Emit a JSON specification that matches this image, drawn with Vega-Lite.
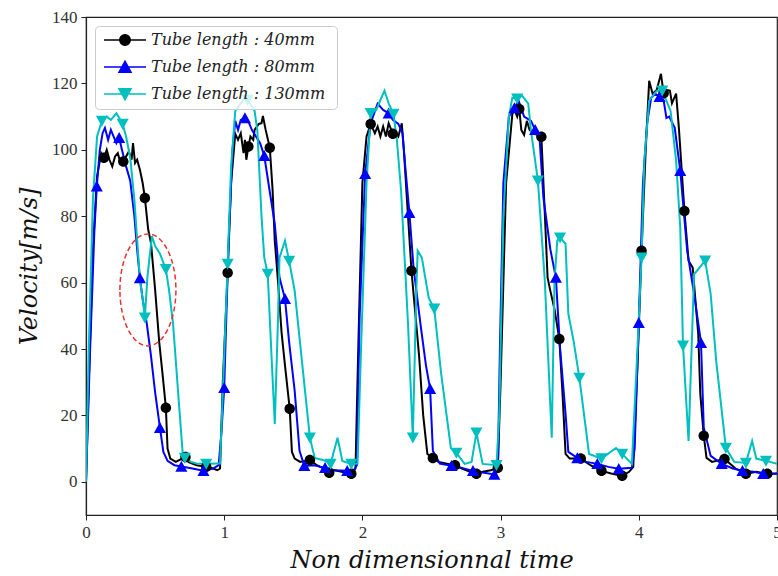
{
  "$schema": "https://vega.github.io/schema/vega-lite/v6.json",
  "width": 691,
  "height": 498,
  "autosize": {"type": "none"},
  "padding": {"left": 86, "top": 17, "right": 1, "bottom": 61},
  "background": "white",
  "config": {
    "view": {"stroke": "#222", "strokeWidth": 1.2},
    "axis": {
      "grid": false,
      "domainColor": "#222",
      "domainWidth": 1.2,
      "tickColor": "#222",
      "tickSize": 5,
      "labelFont": "Liberation Serif",
      "labelFontSize": 17,
      "labelColor": "#333",
      "labelPadding": 4,
      "titleFont": "DejaVu Serif",
      "titleFontStyle": "italic",
      "titleFontWeight": "normal",
      "titleFontSize": 24,
      "titleColor": "#111"
    }
  },
  "datasets": {
    "curves": [
      {"series":"40mm","t":0,"v":0},{"series":"40mm","t":0.02,"v":30},{"series":"40mm","t":0.05,"v":70},{"series":"40mm","t":0.08,"v":92},{"series":"40mm","t":0.11,"v":99},{"series":"40mm","t":0.13,"v":97.6},{"series":"40mm","t":0.15,"v":100},{"series":"40mm","t":0.17,"v":97},{"series":"40mm","t":0.19,"v":95},{"series":"40mm","t":0.21,"v":98},{"series":"40mm","t":0.23,"v":99},{"series":"40mm","t":0.25,"v":96},{"series":"40mm","t":0.27,"v":96.5},{"series":"40mm","t":0.29,"v":98},{"series":"40mm","t":0.31,"v":99.5},{"series":"40mm","t":0.33,"v":97},{"series":"40mm","t":0.34,"v":102},{"series":"40mm","t":0.355,"v":96},{"series":"40mm","t":0.37,"v":97},{"series":"40mm","t":0.39,"v":94},{"series":"40mm","t":0.41,"v":90},{"series":"40mm","t":0.426,"v":85.5},{"series":"40mm","t":0.45,"v":76},{"series":"40mm","t":0.47,"v":72},{"series":"40mm","t":0.5,"v":58},{"series":"40mm","t":0.53,"v":42},{"series":"40mm","t":0.555,"v":32},{"series":"40mm","t":0.578,"v":22.3},{"series":"40mm","t":0.59,"v":10},{"series":"40mm","t":0.61,"v":7},{"series":"40mm","t":0.65,"v":6},{"series":"40mm","t":0.72,"v":7.5},{"series":"40mm","t":0.74,"v":6},{"series":"40mm","t":0.8,"v":5},{"series":"40mm","t":0.87,"v":4.5},{"series":"40mm","t":0.92,"v":4},{"series":"40mm","t":0.95,"v":3.5},{"series":"40mm","t":0.97,"v":4},{"series":"40mm","t":0.99,"v":30},{"series":"40mm","t":1.025,"v":63},{"series":"40mm","t":1.05,"v":90},{"series":"40mm","t":1.08,"v":104.8},{"series":"40mm","t":1.1,"v":103},{"series":"40mm","t":1.12,"v":105},{"series":"40mm","t":1.14,"v":99},{"series":"40mm","t":1.15,"v":103},{"series":"40mm","t":1.16,"v":97},{"series":"40mm","t":1.175,"v":101},{"series":"40mm","t":1.19,"v":104},{"series":"40mm","t":1.21,"v":103},{"series":"40mm","t":1.22,"v":106},{"series":"40mm","t":1.25,"v":107.8},{"series":"40mm","t":1.27,"v":108},{"series":"40mm","t":1.28,"v":110.2},{"series":"40mm","t":1.3,"v":106},{"series":"40mm","t":1.33,"v":100.6},{"series":"40mm","t":1.35,"v":88},{"series":"40mm","t":1.366,"v":72.6},{"series":"40mm","t":1.39,"v":60},{"series":"40mm","t":1.415,"v":45},{"series":"40mm","t":1.44,"v":35},{"series":"40mm","t":1.474,"v":22},{"series":"40mm","t":1.49,"v":9},{"series":"40mm","t":1.51,"v":7},{"series":"40mm","t":1.55,"v":6},{"series":"40mm","t":1.62,"v":6.6},{"series":"40mm","t":1.67,"v":5},{"series":"40mm","t":1.72,"v":4},{"series":"40mm","t":1.76,"v":2.7},{"series":"40mm","t":1.8,"v":3.5},{"series":"40mm","t":1.85,"v":3},{"series":"40mm","t":1.92,"v":2.4},{"series":"40mm","t":1.95,"v":4},{"series":"40mm","t":1.97,"v":40},{"series":"40mm","t":2.0,"v":90},{"series":"40mm","t":2.03,"v":104},{"series":"40mm","t":2.06,"v":107.8},{"series":"40mm","t":2.09,"v":105},{"series":"40mm","t":2.11,"v":107},{"series":"40mm","t":2.13,"v":104},{"series":"40mm","t":2.15,"v":107},{"series":"40mm","t":2.17,"v":104},{"series":"40mm","t":2.19,"v":108},{"series":"40mm","t":2.22,"v":104.8},{"series":"40mm","t":2.24,"v":105},{"series":"40mm","t":2.26,"v":104},{"series":"40mm","t":2.285,"v":108},{"series":"40mm","t":2.3,"v":100},{"series":"40mm","t":2.33,"v":80},{"series":"40mm","t":2.355,"v":63.6},{"series":"40mm","t":2.38,"v":52},{"series":"40mm","t":2.41,"v":38},{"series":"40mm","t":2.44,"v":20},{"series":"40mm","t":2.47,"v":8.4},{"series":"40mm","t":2.51,"v":7.2},{"series":"40mm","t":2.55,"v":6},{"series":"40mm","t":2.62,"v":5.4},{"series":"40mm","t":2.67,"v":5},{"series":"40mm","t":2.72,"v":4},{"series":"40mm","t":2.78,"v":3},{"series":"40mm","t":2.825,"v":2.4},{"series":"40mm","t":2.87,"v":3},{"series":"40mm","t":2.93,"v":3.5},{"series":"40mm","t":2.98,"v":4.2},{"series":"40mm","t":3.0,"v":30},{"series":"40mm","t":3.04,"v":90},{"series":"40mm","t":3.085,"v":110.8},{"series":"40mm","t":3.1,"v":112},{"series":"40mm","t":3.12,"v":110},{"series":"40mm","t":3.135,"v":112.3},{"series":"40mm","t":3.15,"v":106},{"series":"40mm","t":3.17,"v":104.5},{"series":"40mm","t":3.19,"v":108.7},{"series":"40mm","t":3.21,"v":106},{"series":"40mm","t":3.24,"v":104.8},{"series":"40mm","t":3.27,"v":104.5},{"series":"40mm","t":3.295,"v":103.9},{"series":"40mm","t":3.32,"v":80.7},{"series":"40mm","t":3.34,"v":61.5},{"series":"40mm","t":3.36,"v":57.5},{"series":"40mm","t":3.39,"v":52},{"series":"40mm","t":3.425,"v":43},{"series":"40mm","t":3.45,"v":25},{"series":"40mm","t":3.47,"v":8.4},{"series":"40mm","t":3.5,"v":7},{"series":"40mm","t":3.58,"v":7},{"series":"40mm","t":3.65,"v":5},{"series":"40mm","t":3.73,"v":3.3},{"series":"40mm","t":3.8,"v":2.5},{"series":"40mm","t":3.88,"v":1.8},{"series":"40mm","t":3.93,"v":3},{"series":"40mm","t":3.96,"v":4.5},{"series":"40mm","t":3.99,"v":35},{"series":"40mm","t":4.02,"v":69.6},{"series":"40mm","t":4.05,"v":100},{"series":"40mm","t":4.075,"v":120.8},{"series":"40mm","t":4.1,"v":116.9},{"series":"40mm","t":4.13,"v":118},{"series":"40mm","t":4.16,"v":122.9},{"series":"40mm","t":4.18,"v":117},{"series":"40mm","t":4.2,"v":118},{"series":"40mm","t":4.225,"v":117.8},{"series":"40mm","t":4.24,"v":114},{"series":"40mm","t":4.27,"v":116.9},{"series":"40mm","t":4.29,"v":106.6},{"series":"40mm","t":4.33,"v":81.6},{"series":"40mm","t":4.36,"v":66.6},{"series":"40mm","t":4.39,"v":64.5},{"series":"40mm","t":4.43,"v":44.6},{"series":"40mm","t":4.445,"v":26.5},{"series":"40mm","t":4.47,"v":13.9},{"series":"40mm","t":4.49,"v":7.2},{"series":"40mm","t":4.53,"v":6},{"series":"40mm","t":4.62,"v":6.9},{"series":"40mm","t":4.7,"v":4},{"series":"40mm","t":4.775,"v":2.4},{"series":"40mm","t":4.85,"v":3},{"series":"40mm","t":4.93,"v":2.4},{"series":"40mm","t":5.0,"v":2.5},

      {"series":"80mm","t":0,"v":0},{"series":"80mm","t":0.03,"v":40},{"series":"80mm","t":0.06,"v":75},{"series":"80mm","t":0.078,"v":89},{"series":"80mm","t":0.1,"v":100},{"series":"80mm","t":0.12,"v":105},{"series":"80mm","t":0.137,"v":106.6},{"series":"80mm","t":0.16,"v":103},{"series":"80mm","t":0.18,"v":106},{"series":"80mm","t":0.2,"v":104},{"series":"80mm","t":0.22,"v":102},{"series":"80mm","t":0.24,"v":103.6},{"series":"80mm","t":0.26,"v":100},{"series":"80mm","t":0.29,"v":95},{"series":"80mm","t":0.32,"v":90.7},{"series":"80mm","t":0.35,"v":80},{"series":"80mm","t":0.37,"v":70},{"series":"80mm","t":0.39,"v":61.4},{"series":"80mm","t":0.41,"v":55},{"series":"80mm","t":0.44,"v":47.6},{"series":"80mm","t":0.47,"v":38},{"series":"80mm","t":0.5,"v":27},{"series":"80mm","t":0.535,"v":16.3},{"series":"80mm","t":0.56,"v":9},{"series":"80mm","t":0.59,"v":6.3},{"series":"80mm","t":0.64,"v":5},{"series":"80mm","t":0.69,"v":4.6},{"series":"80mm","t":0.77,"v":4},{"series":"80mm","t":0.85,"v":3.3},{"series":"80mm","t":0.92,"v":4},{"series":"80mm","t":0.96,"v":5},{"series":"80mm","t":0.98,"v":15},{"series":"80mm","t":1.0,"v":28.3},{"series":"80mm","t":1.03,"v":70},{"series":"80mm","t":1.06,"v":100},{"series":"80mm","t":1.08,"v":108.7},{"series":"80mm","t":1.1,"v":106},{"series":"80mm","t":1.12,"v":109},{"series":"80mm","t":1.15,"v":109.6},{"series":"80mm","t":1.18,"v":108},{"series":"80mm","t":1.2,"v":106},{"series":"80mm","t":1.23,"v":104},{"series":"80mm","t":1.26,"v":102},{"series":"80mm","t":1.29,"v":98.2},{"series":"80mm","t":1.32,"v":90},{"series":"80mm","t":1.366,"v":77.7},{"series":"80mm","t":1.4,"v":61.5},{"series":"80mm","t":1.44,"v":55.1},{"series":"80mm","t":1.47,"v":42},{"series":"80mm","t":1.51,"v":27.4},{"series":"80mm","t":1.545,"v":9.3},{"series":"80mm","t":1.58,"v":4.8},{"series":"80mm","t":1.65,"v":5},{"series":"80mm","t":1.73,"v":4.2},{"series":"80mm","t":1.8,"v":3.5},{"series":"80mm","t":1.89,"v":3.3},{"series":"80mm","t":1.93,"v":3},{"series":"80mm","t":1.96,"v":5},{"series":"80mm","t":1.98,"v":50},{"series":"80mm","t":2.02,"v":92.8},{"series":"80mm","t":2.06,"v":108},{"series":"80mm","t":2.11,"v":113.9},{"series":"80mm","t":2.15,"v":112},{"series":"80mm","t":2.19,"v":111},{"series":"80mm","t":2.22,"v":109},{"series":"80mm","t":2.26,"v":107.8},{"series":"80mm","t":2.29,"v":105},{"series":"80mm","t":2.31,"v":95},{"series":"80mm","t":2.34,"v":81},{"series":"80mm","t":2.37,"v":64.5},{"series":"80mm","t":2.42,"v":47.6},{"series":"80mm","t":2.46,"v":35},{"series":"80mm","t":2.49,"v":28},{"series":"80mm","t":2.51,"v":9.3},{"series":"80mm","t":2.56,"v":5.5},{"series":"80mm","t":2.645,"v":4.8},{"series":"80mm","t":2.72,"v":4.2},{"series":"80mm","t":2.8,"v":3.3},{"series":"80mm","t":2.87,"v":2.8},{"series":"80mm","t":2.955,"v":2.2},{"series":"80mm","t":2.98,"v":3},{"series":"80mm","t":2.995,"v":40},{"series":"80mm","t":3.02,"v":90},{"series":"80mm","t":3.06,"v":110},{"series":"80mm","t":3.1,"v":112.6},{"series":"80mm","t":3.13,"v":114.8},{"series":"80mm","t":3.17,"v":110},{"series":"80mm","t":3.22,"v":108.7},{"series":"80mm","t":3.25,"v":106},{"series":"80mm","t":3.28,"v":104.8},{"series":"80mm","t":3.31,"v":85.5},{"series":"80mm","t":3.36,"v":70},{"series":"80mm","t":3.4,"v":61.5},{"series":"80mm","t":3.43,"v":40.4},{"series":"80mm","t":3.47,"v":20.5},{"series":"80mm","t":3.49,"v":9},{"series":"80mm","t":3.555,"v":7.2},{"series":"80mm","t":3.62,"v":6},{"series":"80mm","t":3.7,"v":5.4},{"series":"80mm","t":3.78,"v":4.5},{"series":"80mm","t":3.855,"v":3.9},{"series":"80mm","t":3.95,"v":4.2},{"series":"80mm","t":3.97,"v":10},{"series":"80mm","t":4.0,"v":47.9},{"series":"80mm","t":4.03,"v":90},{"series":"80mm","t":4.06,"v":108},{"series":"80mm","t":4.09,"v":115.7},{"series":"80mm","t":4.12,"v":116.9},{"series":"80mm","t":4.15,"v":116},{"series":"80mm","t":4.18,"v":114.8},{"series":"80mm","t":4.2,"v":109.6},{"series":"80mm","t":4.22,"v":110},{"series":"80mm","t":4.26,"v":106.6},{"series":"80mm","t":4.3,"v":93.7},{"series":"80mm","t":4.35,"v":69.6},{"series":"80mm","t":4.4,"v":56.6},{"series":"80mm","t":4.45,"v":41.9},{"series":"80mm","t":4.47,"v":16.3},{"series":"80mm","t":4.52,"v":7.8},{"series":"80mm","t":4.6,"v":5.4},{"series":"80mm","t":4.68,"v":4},{"series":"80mm","t":4.75,"v":3.3},{"series":"80mm","t":4.83,"v":3},{"series":"80mm","t":4.9,"v":2.4},{"series":"80mm","t":5.0,"v":2.4},

      {"series":"130mm","t":0,"v":0},{"series":"130mm","t":0.02,"v":40},{"series":"130mm","t":0.05,"v":85},{"series":"130mm","t":0.08,"v":104},{"series":"130mm","t":0.115,"v":108.7},{"series":"130mm","t":0.15,"v":110},{"series":"130mm","t":0.18,"v":109},{"series":"130mm","t":0.22,"v":111},{"series":"130mm","t":0.25,"v":109},{"series":"130mm","t":0.265,"v":107.8},{"series":"130mm","t":0.29,"v":104},{"series":"130mm","t":0.32,"v":97.6},{"series":"130mm","t":0.35,"v":85},{"series":"130mm","t":0.39,"v":61},{"series":"130mm","t":0.41,"v":55},{"series":"130mm","t":0.426,"v":49.4},{"series":"130mm","t":0.445,"v":62},{"series":"130mm","t":0.477,"v":74},{"series":"130mm","t":0.5,"v":71},{"series":"130mm","t":0.535,"v":68.7},{"series":"130mm","t":0.578,"v":64},{"series":"130mm","t":0.6,"v":58},{"series":"130mm","t":0.63,"v":47.6},{"series":"130mm","t":0.67,"v":25},{"series":"130mm","t":0.7,"v":8.4},{"series":"130mm","t":0.715,"v":7.2},{"series":"130mm","t":0.76,"v":6},{"series":"130mm","t":0.8,"v":5.5},{"series":"130mm","t":0.87,"v":5.4},{"series":"130mm","t":0.95,"v":5.5},{"series":"130mm","t":0.97,"v":5.5},{"series":"130mm","t":0.99,"v":27},{"series":"130mm","t":1.025,"v":65.6},{"series":"130mm","t":1.05,"v":95},{"series":"130mm","t":1.08,"v":111.7},{"series":"130mm","t":1.12,"v":114},{"series":"130mm","t":1.15,"v":115.7},{"series":"130mm","t":1.17,"v":115},{"series":"130mm","t":1.22,"v":111.7},{"series":"130mm","t":1.24,"v":105.7},{"series":"130mm","t":1.27,"v":80},{"series":"130mm","t":1.29,"v":67.5},{"series":"130mm","t":1.315,"v":62.6},{"series":"130mm","t":1.34,"v":40},{"series":"130mm","t":1.366,"v":17.4},{"series":"130mm","t":1.39,"v":50},{"series":"130mm","t":1.4,"v":67.5},{"series":"130mm","t":1.44,"v":72.6},{"series":"130mm","t":1.47,"v":66.5},{"series":"130mm","t":1.51,"v":57.5},{"series":"130mm","t":1.56,"v":37.3},{"series":"130mm","t":1.62,"v":13.3},{"series":"130mm","t":1.655,"v":7.2},{"series":"130mm","t":1.72,"v":6.5},{"series":"130mm","t":1.77,"v":5.4},{"series":"130mm","t":1.82,"v":13.3},{"series":"130mm","t":1.855,"v":6.3},{"series":"130mm","t":1.92,"v":5.4},{"series":"130mm","t":1.965,"v":5.5},{"series":"130mm","t":1.99,"v":40},{"series":"130mm","t":2.03,"v":90},{"series":"130mm","t":2.06,"v":111},{"series":"130mm","t":2.1,"v":112},{"series":"130mm","t":2.13,"v":115},{"series":"130mm","t":2.16,"v":117.8},{"series":"130mm","t":2.19,"v":114},{"series":"130mm","t":2.225,"v":110.8},{"series":"130mm","t":2.25,"v":102.7},{"series":"130mm","t":2.28,"v":87.6},{"series":"130mm","t":2.33,"v":47.6},{"series":"130mm","t":2.365,"v":13.3},{"series":"130mm","t":2.39,"v":57.5},{"series":"130mm","t":2.4,"v":69.6},{"series":"130mm","t":2.43,"v":67.5},{"series":"130mm","t":2.48,"v":55.4},{"series":"130mm","t":2.52,"v":52.1},{"series":"130mm","t":2.57,"v":32.5},{"series":"130mm","t":2.64,"v":10.2},{"series":"130mm","t":2.68,"v":8.7},{"series":"130mm","t":2.74,"v":5.4},{"series":"130mm","t":2.79,"v":6},{"series":"130mm","t":2.825,"v":14.8},{"series":"130mm","t":2.87,"v":5.4},{"series":"130mm","t":2.97,"v":5},{"series":"130mm","t":2.99,"v":20},{"series":"130mm","t":3.02,"v":80},{"series":"130mm","t":3.06,"v":110},{"series":"130mm","t":3.085,"v":115.7},{"series":"130mm","t":3.12,"v":115.4},{"series":"130mm","t":3.155,"v":116.3},{"series":"130mm","t":3.2,"v":113.9},{"series":"130mm","t":3.22,"v":105.7},{"series":"130mm","t":3.27,"v":90.7},{"series":"130mm","t":3.32,"v":60.5},{"series":"130mm","t":3.37,"v":13.3},{"series":"130mm","t":3.39,"v":60.5},{"series":"130mm","t":3.41,"v":72.6},{"series":"130mm","t":3.43,"v":73.5},{"series":"130mm","t":3.47,"v":71.7},{"series":"130mm","t":3.49,"v":50.6},{"series":"130mm","t":3.53,"v":42},{"series":"130mm","t":3.57,"v":31.3},{"series":"130mm","t":3.64,"v":8.4},{"series":"130mm","t":3.73,"v":7},{"series":"130mm","t":3.835,"v":10.2},{"series":"130mm","t":3.88,"v":8.4},{"series":"130mm","t":3.95,"v":5.4},{"series":"130mm","t":3.99,"v":40},{"series":"130mm","t":4.02,"v":67.5},{"series":"130mm","t":4.04,"v":96.7},{"series":"130mm","t":4.075,"v":114.8},{"series":"130mm","t":4.13,"v":117.8},{"series":"130mm","t":4.17,"v":117.8},{"series":"130mm","t":4.23,"v":111.7},{"series":"130mm","t":4.27,"v":96.7},{"series":"130mm","t":4.3,"v":76.5},{"series":"130mm","t":4.32,"v":41},{"series":"130mm","t":4.36,"v":12.3},{"series":"130mm","t":4.4,"v":62.6},{"series":"130mm","t":4.42,"v":63.5},{"series":"130mm","t":4.48,"v":66.6},{"series":"130mm","t":4.52,"v":56.6},{"series":"130mm","t":4.56,"v":36.4},{"series":"130mm","t":4.63,"v":10.2},{"series":"130mm","t":4.69,"v":6},{"series":"130mm","t":4.775,"v":5.7},{"series":"130mm","t":4.82,"v":12.3},{"series":"130mm","t":4.85,"v":7},{"series":"130mm","t":4.92,"v":6.3},{"series":"130mm","t":5.0,"v":5.4}
    ],
    "markers": [
      {"series":"40mm","t":0.13,"v":97.6},{"series":"40mm","t":0.27,"v":96.5},{"series":"40mm","t":0.426,"v":85.5},{"series":"40mm","t":0.578,"v":22.3},{"series":"40mm","t":0.72,"v":7.5},{"series":"40mm","t":0.87,"v":4.5},{"series":"40mm","t":1.025,"v":63},{"series":"40mm","t":1.175,"v":101},{"series":"40mm","t":1.33,"v":100.6},{"series":"40mm","t":1.474,"v":22},{"series":"40mm","t":1.62,"v":6.6},{"series":"40mm","t":1.76,"v":2.7},{"series":"40mm","t":1.92,"v":2.4},{"series":"40mm","t":2.06,"v":107.8},{"series":"40mm","t":2.22,"v":104.8},{"series":"40mm","t":2.355,"v":63.6},{"series":"40mm","t":2.51,"v":7.2},{"series":"40mm","t":2.67,"v":5},{"series":"40mm","t":2.825,"v":2.4},{"series":"40mm","t":2.98,"v":4.2},{"series":"40mm","t":3.135,"v":112.3},{"series":"40mm","t":3.295,"v":103.9},{"series":"40mm","t":3.425,"v":43},{"series":"40mm","t":3.58,"v":7},{"series":"40mm","t":3.73,"v":3.3},{"series":"40mm","t":3.88,"v":1.8},{"series":"40mm","t":4.02,"v":69.6},{"series":"40mm","t":4.18,"v":117},{"series":"40mm","t":4.33,"v":81.6},{"series":"40mm","t":4.47,"v":13.9},{"series":"40mm","t":4.62,"v":6.9},{"series":"40mm","t":4.775,"v":2.4},{"series":"40mm","t":4.93,"v":2.4},
      {"series":"80mm","t":0.078,"v":89},{"series":"80mm","t":0.24,"v":103.6},{"series":"80mm","t":0.39,"v":61.4},{"series":"80mm","t":0.535,"v":16.3},{"series":"80mm","t":0.69,"v":4.6},{"series":"80mm","t":0.85,"v":3.3},{"series":"80mm","t":1.0,"v":28.3},{"series":"80mm","t":1.15,"v":109.6},{"series":"80mm","t":1.29,"v":98.2},{"series":"80mm","t":1.44,"v":55.1},{"series":"80mm","t":1.58,"v":4.8},{"series":"80mm","t":1.73,"v":4.2},{"series":"80mm","t":1.89,"v":3.3},{"series":"80mm","t":2.02,"v":92.8},{"series":"80mm","t":2.19,"v":111},{"series":"80mm","t":2.34,"v":81},{"series":"80mm","t":2.49,"v":28},{"series":"80mm","t":2.645,"v":4.8},{"series":"80mm","t":2.8,"v":3.3},{"series":"80mm","t":2.955,"v":2.2},{"series":"80mm","t":3.1,"v":112.6},{"series":"80mm","t":3.25,"v":106},{"series":"80mm","t":3.4,"v":61.5},{"series":"80mm","t":3.555,"v":7.2},{"series":"80mm","t":3.7,"v":5.4},{"series":"80mm","t":3.855,"v":3.9},{"series":"80mm","t":4.0,"v":47.9},{"series":"80mm","t":4.15,"v":116},{"series":"80mm","t":4.3,"v":93.7},{"series":"80mm","t":4.45,"v":41.9},{"series":"80mm","t":4.6,"v":5.4},{"series":"80mm","t":4.75,"v":3.3},{"series":"80mm","t":4.9,"v":2.4},
      {"series":"130mm","t":0.115,"v":108.7},{"series":"130mm","t":0.265,"v":107.8},{"series":"130mm","t":0.426,"v":49.4},{"series":"130mm","t":0.578,"v":64},{"series":"130mm","t":0.715,"v":7.2},{"series":"130mm","t":0.87,"v":5.4},{"series":"130mm","t":1.025,"v":65.6},{"series":"130mm","t":1.17,"v":115},{"series":"130mm","t":1.315,"v":62.6},{"series":"130mm","t":1.47,"v":66.5},{"series":"130mm","t":1.62,"v":13.3},{"series":"130mm","t":1.77,"v":5.4},{"series":"130mm","t":1.92,"v":5.4},{"series":"130mm","t":2.06,"v":111},{"series":"130mm","t":2.225,"v":110.8},{"series":"130mm","t":2.365,"v":13.3},{"series":"130mm","t":2.52,"v":52.1},{"series":"130mm","t":2.68,"v":8.7},{"series":"130mm","t":2.825,"v":14.8},{"series":"130mm","t":2.97,"v":5},{"series":"130mm","t":3.12,"v":115.4},{"series":"130mm","t":3.27,"v":90.7},{"series":"130mm","t":3.43,"v":73.5},{"series":"130mm","t":3.57,"v":31.3},{"series":"130mm","t":3.73,"v":7},{"series":"130mm","t":3.88,"v":8.4},{"series":"130mm","t":4.02,"v":67.5},{"series":"130mm","t":4.17,"v":117.8},{"series":"130mm","t":4.32,"v":41},{"series":"130mm","t":4.48,"v":66.6},{"series":"130mm","t":4.63,"v":10.2},{"series":"130mm","t":4.775,"v":5.7},{"series":"130mm","t":4.92,"v":6.3}
    ],
    "note": [{"t": 0.448, "v": 57.8}]
  },
  "layer": [
    {
      "data": {"name": "curves"},
      "mark": {"type": "line", "strokeWidth": 2, "clip": true},
      "encoding": {
        "x": {"field": "t", "type": "quantitative", "scale": {"domain": [0, 5], "nice": false, "zero": false},
              "axis": {"values": [0,1,2,3,4,5], "format": "d", "title": "Non dimensionnal time", "titlePadding": 8, "labelFlush": false}},
        "y": {"field": "v", "type": "quantitative", "scale": {"domain": [-10, 140], "nice": false, "zero": false},
              "axis": {"values": [0,20,40,60,80,100,120,140], "title": "Velocity[m/s]", "titlePadding": 10}},
        "color": {"field": "series", "type": "nominal",
                  "scale": {"domain": ["40mm","80mm","130mm"], "range": ["#000000","#0000ff","#00bfbf"]}},
        "order": {"field": "t", "type": "quantitative"}
      }
    },
    {
      "data": {"name": "markers"},
      "mark": {"type": "point", "filled": true, "opacity": 1, "size": 110, "clip": true},
      "encoding": {
        "x": {"field": "t", "type": "quantitative"},
        "y": {"field": "v", "type": "quantitative"},
        "color": {"field": "series", "type": "nominal",
                  "legend": {
                    "title": null, "orient": "top-left", "offset": 9,
                    "fillColor": "rgba(255,255,255,0.8)", "strokeColor": "#cccccc", "cornerRadius": 4,
                    "padding": 6, "rowPadding": 9,
                    "labelFont": "DejaVu Serif", "labelFontStyle": "italic", "labelFontSize": 16, "labelColor": "#222",
                    "labelLimit": 400,
                    "labelExpr": "'Tube length :  ' + datum.label",
                    "symbolOffset": 16, "labelOffset": 18, "symbolSize": 110,
                    "encode": {"symbols": {"update": {"stroke": {"scale": "color", "field": "value"}, "strokeWidth": {"value": 2.2}}}}
                  }},
        "shape": {"field": "series", "type": "nominal",
                  "scale": {"domain": ["40mm","80mm","130mm"],
                            "range": ["M-4,0H4M1,0A1,1 0 1,1 -1,0A1,1 0 1,1 1,0Z",
                                      "M-4,0H4M0,-1.1L1.15,1L-1.15,1Z",
                                      "M-4,0H4M0,1.1L1.15,-1L-1.15,-1Z"]}}
      }
    },
    {
      "data": {"name": "note"},
      "mark": {"type": "point", "shape": "M-1,0A1,2 0 1,1 1,0A1,2 0 1,1 -1,0Z", "size": 3136,
               "filled": false, "stroke": "#e8322f", "strokeWidth": 1.5, "strokeDash": [5, 3], "opacity": 1},
      "encoding": {
        "x": {"field": "t", "type": "quantitative"},
        "y": {"field": "v", "type": "quantitative"}
      }
    }
  ]
}
